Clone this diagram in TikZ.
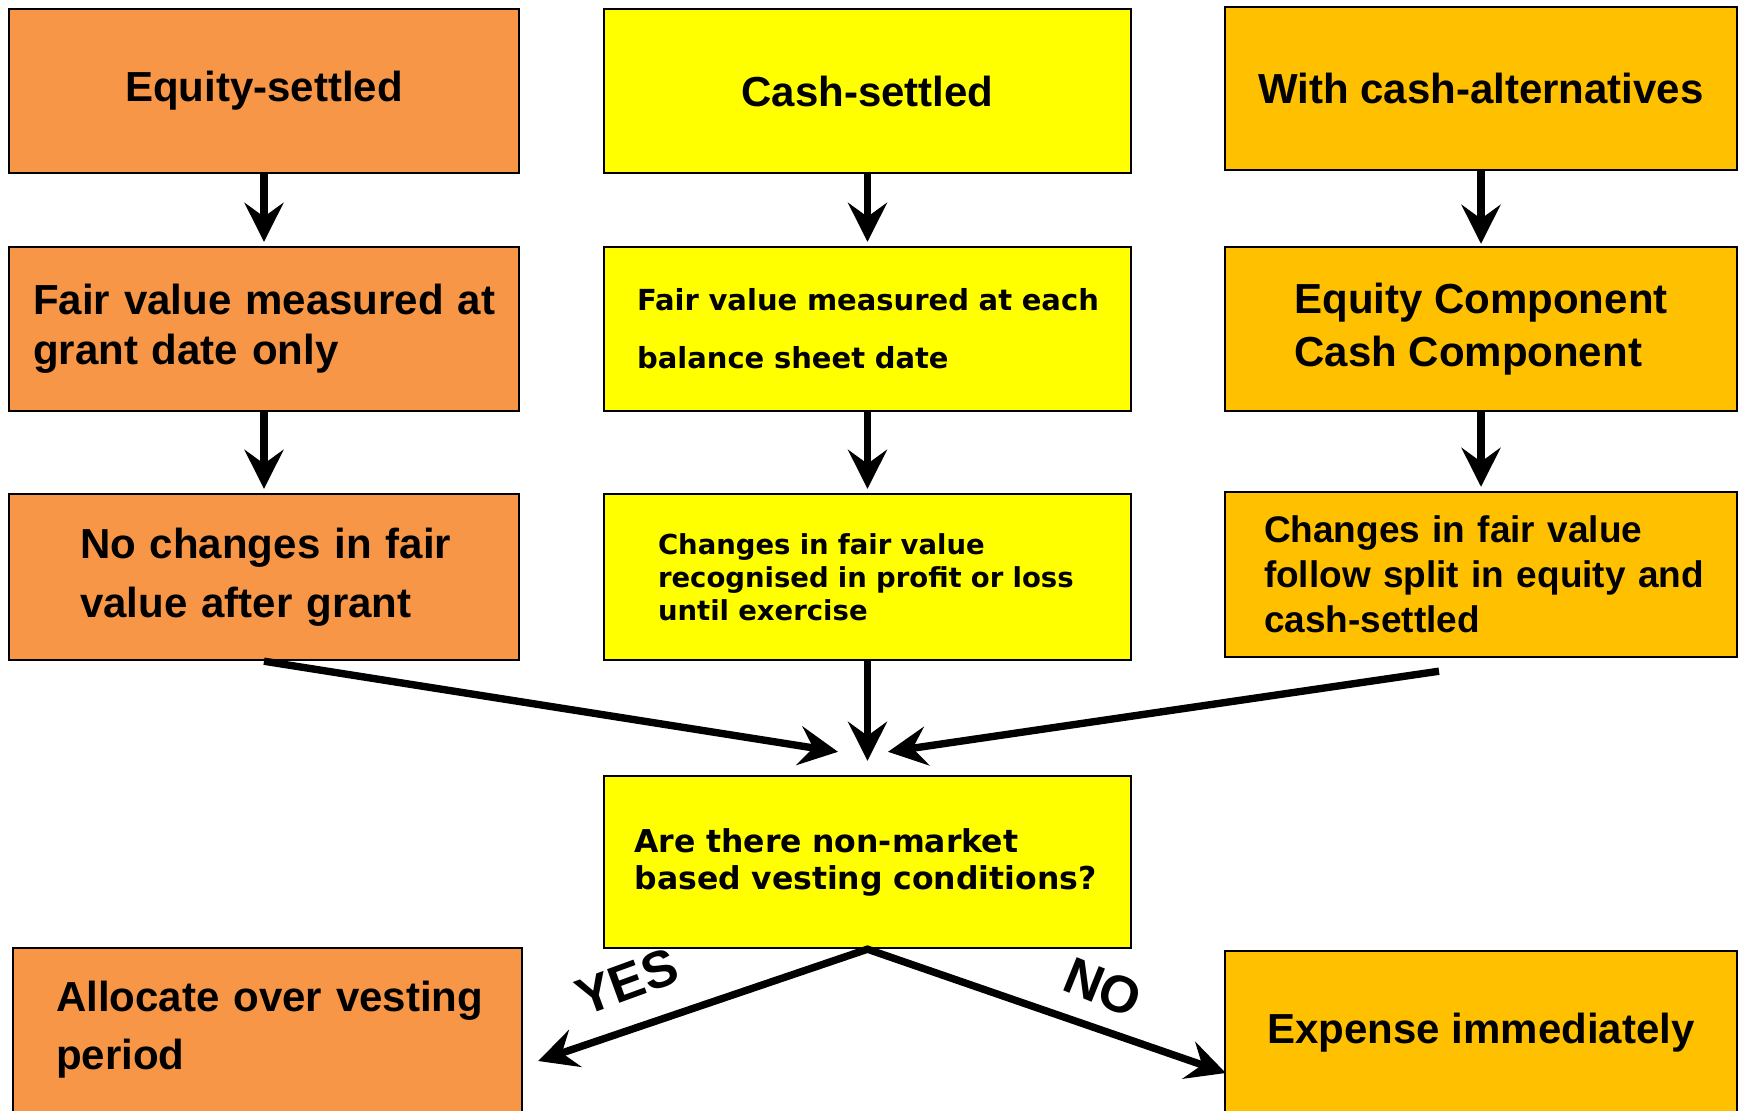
\documentclass[tikz,border=0pt]{standalone}
\usepackage{fontspec}
\setmainfont{Liberation Sans}
\newfontfamily\dvfont{DejaVu Sans}
\usetikzlibrary{arrows.meta,calc}
\definecolor{orangeC}{HTML}{F79646}
\definecolor{yellowC}{HTML}{FFFF00}
\definecolor{goldC}{HTML}{FFC000}
\newcommand\mb[1]{\mbox{#1}}
\tikzset{
  box/.style={draw=black, line width=1.2pt, inner sep=0pt,
    font=\bfseries\fontsize{21}{25}\selectfont},
  ecol/.style={box, fill=orangeC, minimum width=255pt, minimum height=82pt},
  ccol/.style={box, fill=yellowC, minimum width=263.5pt, minimum height=82pt},
  acol/.style={box, fill=goldC, minimum width=256pt, minimum height=82pt},
  arr/.style={line width=3.7pt, -{Stealth[length=19.5pt,width=19.5pt,inset=7pt]}},
  lbl/.style={font=\bfseries\fontsize{26}{30}\selectfont, inner sep=0pt},
}
\begin{document}
\begin{tikzpicture}[x=0.5pt,y=-0.5pt]
\useasboundingbox (0,0) rectangle (1742,1110);
\clip (0,0) rectangle (1742,1110);

% row 1
\node[ecol] (e1) at (264,91) {Equity-settled};
\node[ccol] (c1) at (867.5,91) {Cash-settled};
\node[acol, minimum height=81.5pt] (a1) at (1481,88.5) {With cash-alternatives};

% row 2
\node[ecol, align=left, inner xsep=12pt, text width=231pt] (e2) at (264,329)
  {\mb{Fair value measured at}\\\mb{grant date only}};
\node[ccol, align=left, inner xsep=16.5pt, text width=230.5pt,
  font=\dvfont\bfseries\fontsize{14.5}{29}\selectfont] (c2) at (867.5,329)
  {\mb{Fair value measured at each}\\\mb{balance sheet date}};
\node[acol, align=left, font=\bfseries\fontsize{21}{26.5}\selectfont] (a2) at (1481,329)
  {Equity Component\\Cash Component};

% row 3
\node[ecol, minimum height=83pt, align=left, inner xsep=35.5pt, text width=184pt,
  font=\bfseries\fontsize{21}{29.5}\selectfont] (e3) at (264,577)
  {\mb{No changes in fair}\\\mb{value after grant}};
\node[ccol, minimum height=83pt, align=left, inner xsep=27pt, text width=209.5pt,
  font=\dvfont\bfseries\fontsize{13.75}{16.5}\selectfont] (c3) at (867.5,577)
  {\mb{Changes in fair value}\\\mb{recognised in profit or loss}\\\mb{until exercise}};
\node[acol, minimum height=82.5pt, align=left, inner xsep=19.5pt, text width=217pt,
  font=\bfseries\fontsize{18.5}{22.5}\selectfont] (a3) at (1481,574.5)
  {\mb{Changes in fair value}\\\mb{follow split in equity and}\\\mb{cash-settled}};

% question
\node[ccol, minimum height=86pt, align=left, inner xsep=15.25pt, text width=233pt,
  font=\dvfont\bfseries\fontsize{15.75}{18.5}\selectfont] (q) at (867.5,862)
  {\mb{Are there non-market}\\\mb{based vesting conditions?}};

% outcomes
\node[box, fill=orangeC, minimum width=254.5pt, minimum height=82pt, align=left,
  inner xsep=21.5pt, text width=211.5pt, font=\bfseries\fontsize{21}{29}\selectfont]
  (yb) at (267.5,1030) {\mb{Allocate over vesting}\\\mb{period}};
\node[acol] (nb) at (1481,1033) {Expense immediately};

% vertical arrows
\draw[arr, shorten >=2pt] (e1.south) -- (e2.north);
\draw[arr, shorten >=2pt] (e2.south) -- (e3.north);
\draw[arr, shorten >=2pt] (c1.south) -- (c2.north);
\draw[arr, shorten >=2pt] (c2.south) -- (c3.north);
\draw[arr, shorten >=1pt] (a1.south) -- (a2.north);
\draw[arr, shorten >=2pt] (a2.south) -- (a3.north);

% converging arrows
\coordinate (lt) at ($(q.north)+(-29.5,-23)$);
\coordinate (rt) at ($(q.north)+(20.5,-23)$);
\coordinate (rs) at ($(a3.south)+(-42,13)$);
\draw[arr] (e3.south) -- (lt);
\draw[arr, shorten >=7pt] (c3.south) -- (q.north);
\draw[arr] (rs) -- (rt);

% yes / no
\coordinate (yt) at ($(yb.east)+(15,31)$);
\coordinate (nt) at ($(nb.west)+(2,40)$);
\draw[line width=3.7pt, {Stealth[length=19.5pt,width=19.5pt,inset=7pt]}-{Stealth[length=19.5pt,width=19.5pt,inset=7pt]}]
  (yt) -- (q.south) -- (nt);
\node[lbl, rotate=20] (yes) at (627,982) {YES};
\node[lbl, rotate=-22] (no) at (1103,987) {NO};
\end{tikzpicture}
\end{document}
